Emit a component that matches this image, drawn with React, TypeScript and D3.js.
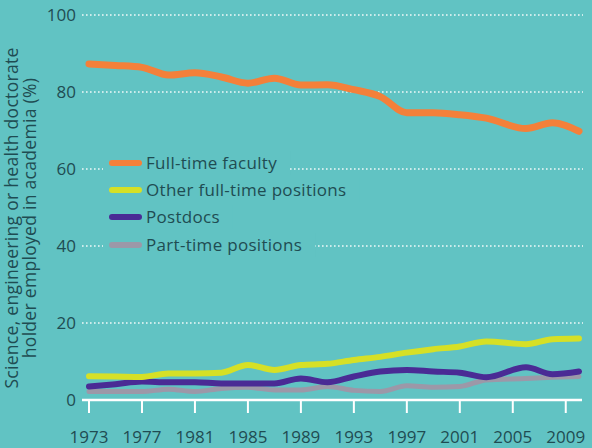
import React, { useEffect, useRef } from 'react';
import * as d3 from 'd3';

const YEARS = [1973, 1975, 1977, 1979, 1981, 1983, 1985, 1987, 1989, 1991, 1993, 1995, 1997, 1999, 2001, 2003, 2006, 2008, 2010];
const FULL_TIME_FACULTY = [87.3, 86.9, 86.4, 84.4, 85.0, 83.9, 82.3, 83.6, 81.8, 81.9, 80.6, 78.8, 74.6, 74.6, 74.1, 73.2, 70.5, 72.0, 69.8];
const OTHER_FULL_TIME = [6.2, 6.1, 6.0, 6.9, 6.9, 7.1, 9.1, 7.8, 9.1, 9.4, 10.4, 11.2, 12.3, 13.2, 13.9, 15.2, 14.5, 15.8, 16.0];
const POSTDOCS = [3.5, 4.1, 4.8, 4.6, 4.6, 4.3, 4.3, 4.3, 5.6, 4.6, 6.1, 7.4, 7.8, 7.4, 7.1, 5.9, 8.5, 6.7, 7.4];
const PART_TIME = [2.2, 2.2, 2.2, 2.8, 2.2, 3.0, 3.3, 2.6, 2.6, 3.5, 2.5, 2.2, 3.7, 3.3, 3.5, 5.2, 5.6, 5.9, 6.1];
const Y_TICKS = [0, 20, 40, 60, 80, 100];
const X_TICKS = [1973, 1977, 1981, 1985, 1989, 1993, 1997, 2001, 2005, 2009];

const SERIES = [
  { name: 'Full-time faculty', values: FULL_TIME_FACULTY, color: '#f4803a', width: 7 },
  { name: 'Other full-time positions', values: OTHER_FULL_TIME, color: '#d6e026', width: 6 },
  { name: 'Postdocs', values: POSTDOCS, color: '#4a2b95', width: 6 },
  { name: 'Part-time positions', values: PART_TIME, color: '#9c98a8', width: 5 },
];

const BG = '#61c3c3';
const INK = '#1f4c52';
const FONT = "'Open Sans', sans-serif";

export default function App() {
  const ref = useRef<SVGSVGElement>(null);

  useEffect(() => {
    document.body.style.margin = '0';
    const svg = d3.select(ref.current);
    svg.selectAll('*').remove();
    const W = 592, H = 448;
    const x = d3.scaleLinear().domain([1973, 2010]).range([89, 579]);
    const y = d3.scaleLinear().domain([0, 100]).range([400, 15]);

    svg.append('rect').attr('width', W).attr('height', H).attr('fill', BG);

    // Dotted gridlines
    svg.selectAll('.grid').data(Y_TICKS.filter(d => d > 0)).enter().append('line')
      .attr('x1', 82).attr('x2', 583).attr('y1', d => y(d)).attr('y2', d => y(d))
      .attr('stroke', '#ffffff').attr('stroke-width', 1.6).attr('stroke-dasharray', '1.6,2.4').attr('opacity', 0.9);

    // Y tick labels
    svg.selectAll('.ylab').data(Y_TICKS).enter().append('text')
      .attr('x', 76).attr('y', d => y(d)).attr('dy', '0.35em').attr('text-anchor', 'end')
      .attr('fill', INK).attr('font-size', '17px').attr('font-family', FONT).text(d => d);

    // Axis line and ticks
    svg.append('line').attr('x1', 82).attr('x2', 582).attr('y1', 400).attr('y2', 400)
      .attr('stroke', '#ffffff').attr('stroke-width', 2.5);
    svg.selectAll('.xtick').data(X_TICKS).enter().append('line')
      .attr('x1', d => x(d)).attr('x2', d => x(d)).attr('y1', 400).attr('y2', 413)
      .attr('stroke', '#ffffff').attr('stroke-width', 2);
    svg.selectAll('.xlab').data(X_TICKS).enter().append('text')
      .attr('x', d => x(d)).attr('y', 443).attr('text-anchor', 'middle')
      .attr('fill', INK).attr('font-size', '17px').attr('font-family', FONT).text(d => d);

    // Y axis title
    const title = svg.append('text').attr('transform', 'translate(0,218) rotate(-90)')
      .attr('text-anchor', 'middle').attr('fill', INK).attr('font-size', '17.5px').attr('font-family', FONT)
      .attr('letter-spacing', '0.3px');
    title.append('tspan').attr('x', 0).attr('y', 18).text('Science, engineering or health doctorate');
    title.append('tspan').attr('x', 0).attr('y', 36).text('holder employed in academia (%)');

    // Legend
    const rows = [163, 190, 217, 245];
    SERIES.forEach((s, i) => {
      const g = svg.append('g').attr('transform', `translate(0,${rows[i]})`);
      const bg = g.append('rect').attr('fill', BG).attr('x', 103).attr('y', -12).attr('height', 24);
      g.append('line').attr('x1', 112).attr('x2', 139).attr('y1', 0).attr('y2', 0)
        .attr('stroke', s.color).attr('stroke-width', 6).attr('stroke-linecap', 'round');
      const t = g.append('text').attr('x', 146).attr('y', 0).attr('dy', '0.35em')
        .attr('fill', INK).attr('font-size', '17px').attr('letter-spacing', '0.3px')
        .attr('font-family', FONT).text(s.name);
      const len = (t.node() as SVGTextElement).getComputedTextLength();
      bg.attr('width', 146 + len + 13 - 103);
    });

    // Series lines
    const line = d3.line<number>().x((_, i) => x(YEARS[i])).y(d => y(d)).curve(d3.curveMonotoneX);
    [3, 2, 1, 0].forEach(i => {
      const s = SERIES[i];
      svg.append('path').datum(s.values).attr('fill', 'none').attr('stroke', s.color)
        .attr('stroke-width', s.width).attr('stroke-linejoin', 'round').attr('stroke-linecap', 'round')
        .attr('d', line);
    });
  }, []);

  return <svg ref={ref} width={592} height={448} style={{ display: 'block' }} />;
}
